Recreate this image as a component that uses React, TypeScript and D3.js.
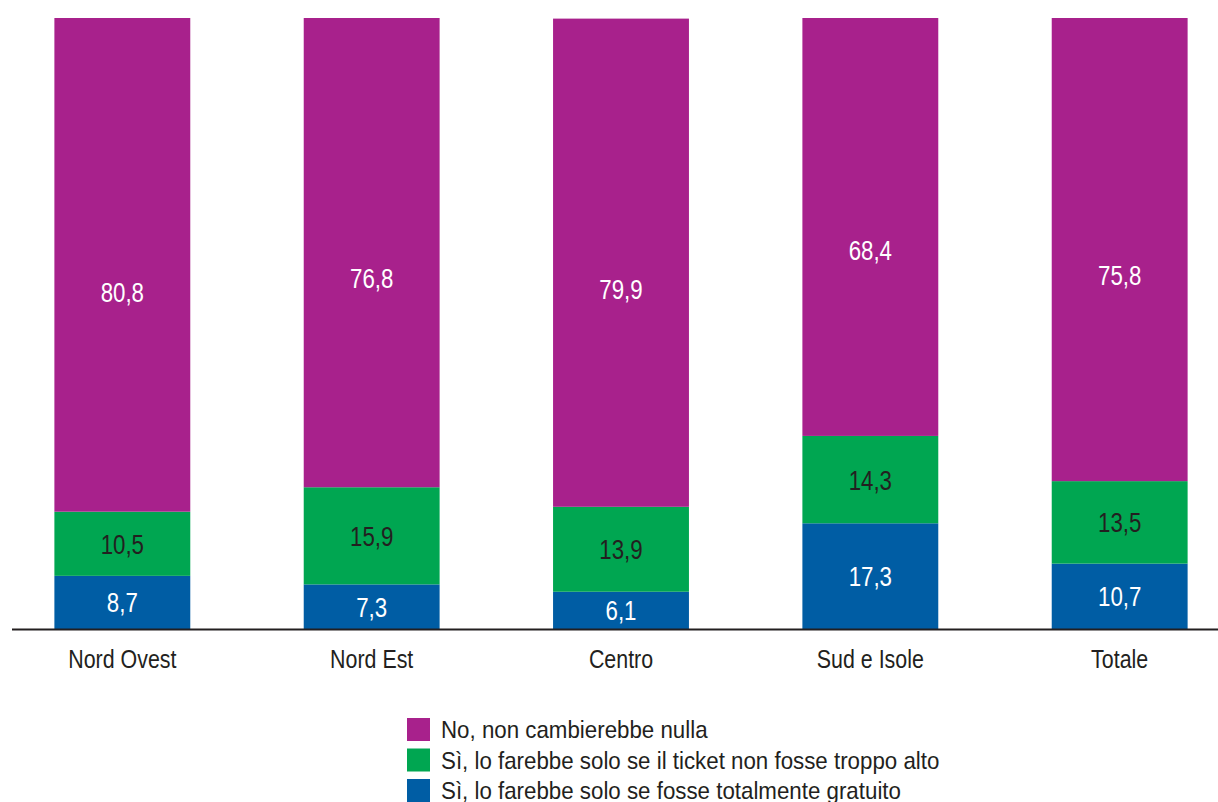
import React from "react";
import * as d3 from "d3";

// Regions and the three answer shares (percent, each bar sums to 100)
const categories = ["Nord Ovest", "Nord Est", "Centro", "Sud e Isole", "Totale"];
const gratuito = [8.7, 7.3, 6.1, 17.3, 10.7];
const ticketBasso = [10.5, 15.9, 13.9, 14.3, 13.5];
const nulla = [80.8, 76.8, 79.9, 68.4, 75.8];

const seriesNames = [
  "Sì, lo farebbe solo se fosse totalmente gratuito",
  "Sì, lo farebbe solo se il ticket non fosse troppo alto",
  "No, non cambierebbe nulla",
];
const seriesColors = ["#005da4", "#00a651", "#a8218c"];
const labelColors = ["#ffffff", "#231f20", "#ffffff"];
// where the value label sits inside its segment, measured from the segment bottom
const labelAnchor = [0.5, 0.5, 0.445];

const W = 1218;
const H = 802;
const FONT = "'Liberation Sans', Arial, sans-serif";

const fmt = (v: number) => v.toFixed(1).replace(".", ",");

// text squeezed horizontally for a condensed look
function NarrowText(props: {
  x: number;
  y: number;
  size: number;
  fill: string;
  squeeze: number;
  anchor?: "start" | "middle" | "end";
  dy?: string;
  children: React.ReactNode;
}) {
  const { x, y, size, fill, squeeze, anchor = "start", dy, children } = props;
  return (
    <text
      transform={`translate(${x},${y}) scale(${squeeze},1)`}
      textAnchor={anchor}
      dy={dy}
      fontSize={size}
      fill={fill}
    >
      {children}
    </text>
  );
}

export default function App() {
  const keys = ["g", "t", "n"];
  const rows = categories.map((c, i) => ({
    cat: c,
    g: gratuito[i],
    t: ticketBasso[i],
    n: nulla[i],
  }));
  const stacked = d3.stack<any>().keys(keys)(rows);

  const x = d3
    .scaleBand<string>()
    .domain(categories)
    .range([12, 1230])
    .paddingInner(0.455)
    .paddingOuter(0.17);
  const y = d3.scaleLinear().domain([0, 100]).range([629, 18]);

  const legendOrder = [2, 1, 0];

  return (
    <svg
      width={W}
      height={H}
      style={{ position: "absolute", left: 0, top: 0, background: "#fff" }}
      fontFamily={FONT}
    >
      {stacked.map((layer, si) => (
        <g key={si}>
          {layer.map((d, i) => {
            const x0 = x(categories[i])!;
            const yTop = y(d[1]);
            const yBot = y(d[0]);
            const ly = yBot - (yBot - yTop) * labelAnchor[si];
            return (
              <g key={i}>
                <rect
                  x={x0}
                  y={yTop}
                  width={x.bandwidth()}
                  height={yBot - yTop}
                  fill={seriesColors[si]}
                />
                <NarrowText
                  x={x0 + x.bandwidth() / 2}
                  y={ly}
                  dy="0.36em"
                  anchor="middle"
                  size={27.5}
                  squeeze={0.81}
                  fill={labelColors[si]}
                >
                  {fmt(d[1] - d[0])}
                </NarrowText>
              </g>
            );
          })}
        </g>
      ))}

      <line x1={12} x2={W} y1={629.5} y2={629.5} stroke="#231f20" strokeWidth={2.2} />

      {categories.map((c) => (
        <NarrowText
          key={c}
          x={x(c)! + x.bandwidth() / 2}
          y={668}
          anchor="middle"
          size={25.5}
          squeeze={0.84}
          fill="#231f20"
        >
          {c}
        </NarrowText>
      ))}

      {legendOrder.map((si, k) => (
        <g key={si} transform={`translate(407, ${718 + k * 30.5})`}>
          <rect x={0} y={0} width={23} height={23} fill={seriesColors[si]} />
          <NarrowText x={34} y={20} size={24} squeeze={0.93} fill="#231f20">
            {seriesNames[si]}
          </NarrowText>
        </g>
      ))}
    </svg>
  );
}
